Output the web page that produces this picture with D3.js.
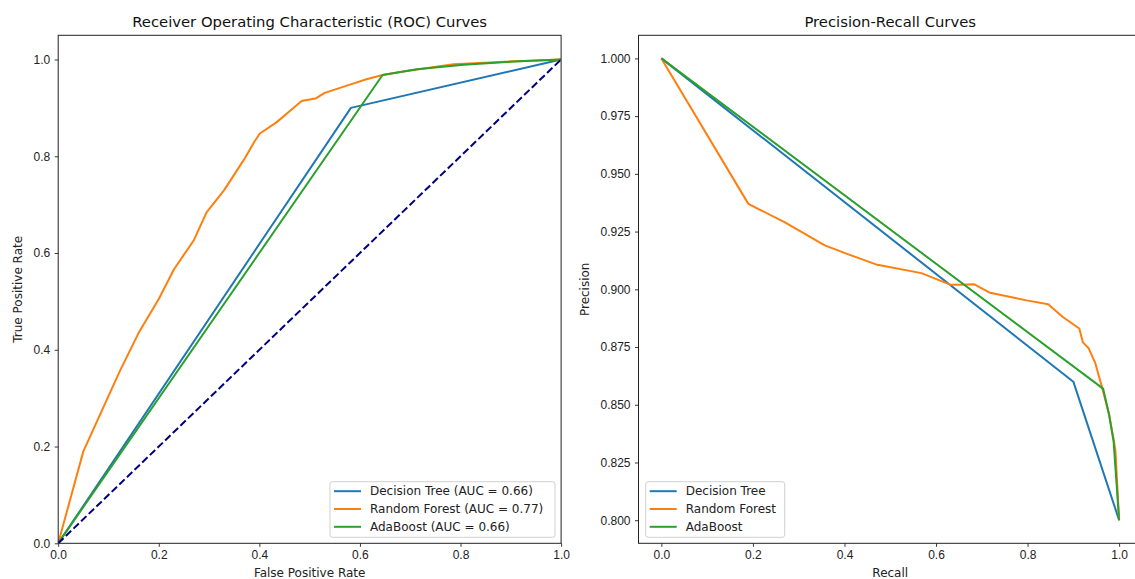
<!DOCTYPE html>
<html lang="en">

<head>
    <meta charset="UTF-8">
    <title>ROC and Precision-Recall curves</title>
    <script src="https://d3js.org/d3.v7.min.js"></script>
    <style>
        body {
            margin: 0;
            background: #ffffff;
        }

        svg {
            display: block;
            font-family: "DejaVu Sans", sans-serif;
        }

        .tick text {
            font-size: 12px;
            fill: #222;
        }

        .tick line {
            stroke: #222;
            stroke-width: 0.9;
        }

        .domain {
            display: none;
        }
    </style>
</head>

<body>
    <svg id="chart" width="1135" height="579"></svg>

    <script>
        // ROC data [false positive rate, true positive rate]
        var rocDecisionTree = [[0, 0], [0.582, 0.900], [1, 1]];
        var rocRandomForest = [
            [0, 0], [0.05, 0.19], [0.085, 0.27], [0.123, 0.357], [0.16, 0.435], [0.2, 0.505],
            [0.23, 0.566], [0.27, 0.627], [0.295, 0.684], [0.33, 0.73], [0.37, 0.794],
            [0.39, 0.83], [0.401, 0.847], [0.434, 0.87], [0.46, 0.893], [0.484, 0.914],
            [0.513, 0.92], [0.53, 0.931], [0.58, 0.948], [0.613, 0.959], [0.645, 0.968],
            [0.68, 0.974], [0.786, 0.99], [0.9, 0.996], [1, 1]
        ];
        var rocAdaBoost = [[0, 0], [0.645, 0.968], [0.713, 0.98], [0.806, 0.989], [0.892, 0.995], [1, 1]];
        var rocChance = [[0, 0], [1, 1]];

        // Precision-recall data [recall, precision]
        var prDecisionTree = [[0, 1], [0.9, 0.86], [1, 0.8]];
        var prRandomForest = [
            [0, 1], [0.19, 0.937], [0.27, 0.929], [0.357, 0.919], [0.41, 0.915], [0.472, 0.9106],
            [0.568, 0.907], [0.631, 0.902], [0.655, 0.902], [0.683, 0.9022], [0.718, 0.8985],
            [0.798, 0.8952], [0.845, 0.8935], [0.877, 0.888], [0.913, 0.883], [0.921, 0.877],
            [0.933, 0.8746], [0.948, 0.868], [0.962, 0.858], [0.978, 0.846], [0.988, 0.835],
            [0.992, 0.83], [1, 0.8]
        ];
        var prAdaBoost = [[0, 1], [0.965, 0.857], [0.978, 0.8457], [0.988, 0.834], [1, 0.8]];

        var modelNames = ["Decision Tree", "Random Forest", "AdaBoost"];
        var aucValues = [0.66, 0.77, 0.66];
        var colors = ["#1f77b4", "#ff7f0e", "#2ca02c"];

        var rocTicks = [0, 0.2, 0.4, 0.6, 0.8, 1.0];
        var prXTicks = [0, 0.2, 0.4, 0.6, 0.8, 1.0];
        var prYTicks = [0.8, 0.825, 0.85, 0.875, 0.9, 0.925, 0.95, 0.975, 1.0];

        var svg = d3.select("#chart");

        function drawPanel(opts) {
            var g = svg.append("g");

            var x = d3.scaleLinear().domain(opts.xDomain).range([opts.left, opts.right]);
            var y = d3.scaleLinear().domain(opts.yDomain).range([opts.bottom, opts.top]);

            var clipId = "clip" + opts.id;
            g.append("clipPath").attr("id", clipId)
                .append("rect")
                .attr("x", opts.left).attr("y", opts.top)
                .attr("width", opts.right - opts.left)
                .attr("height", opts.bottom - opts.top);

            var line = d3.line()
                .x(function (d) { return x(d[0]); })
                .y(function (d) { return y(d[1]); });

            var lines = g.append("g").attr("clip-path", "url(#" + clipId + ")");
            opts.series.forEach(function (s, i) {
                lines.append("path")
                    .datum(s)
                    .attr("d", line)
                    .attr("fill", "none")
                    .attr("stroke", colors[i])
                    .attr("stroke-width", 2)
                    .attr("stroke-linejoin", "round");
            });

            if (opts.chance) {
                lines.append("path")
                    .datum(opts.chance)
                    .attr("d", line)
                    .attr("fill", "none")
                    .attr("stroke", "#000080")
                    .attr("stroke-width", 2)
                    .attr("stroke-dasharray", "7.4,3.2");
            }

            // axes
            g.append("g")
                .attr("transform", "translate(0," + opts.bottom + ")")
                .call(d3.axisBottom(x).tickValues(opts.xTicks).tickFormat(d3.format(".1f"))
                    .tickSizeInner(3.5).tickSizeOuter(0).tickPadding(3.5));

            g.append("g")
                .attr("transform", "translate(" + opts.left + ",0)")
                .call(d3.axisLeft(y).tickValues(opts.yTicks).tickFormat(d3.format(opts.yFormat))
                    .tickSizeInner(3.5).tickSizeOuter(0).tickPadding(4.5));

            // frame
            g.append("rect")
                .attr("x", opts.left).attr("y", opts.top)
                .attr("width", opts.right - opts.left)
                .attr("height", opts.bottom - opts.top)
                .attr("fill", "none")
                .attr("stroke", "#222")
                .attr("stroke-width", 1);

            // title and labels
            g.append("text")
                .attr("x", (opts.left + opts.right) / 2)
                .attr("y", 27)
                .attr("text-anchor", "middle")
                .attr("font-size", "14.8px")
                .attr("fill", "#111")
                .text(opts.title);

            g.append("text")
                .attr("x", (opts.left + opts.right) / 2)
                .attr("y", 576.5)
                .attr("text-anchor", "middle")
                .attr("font-size", "12px")
                .attr("fill", "#222")
                .text(opts.xLabel);

            g.append("text")
                .attr("transform", "translate(" + opts.yLabelX + "," + (opts.top + opts.bottom) / 2 + ") rotate(-90)")
                .attr("text-anchor", "middle")
                .attr("font-size", "12px")
                .attr("fill", "#222")
                .text(opts.yLabel);

            // legend
            var lg = g.append("g").attr("transform", "translate(" + opts.legendX + ",481.7)");
            lg.append("rect")
                .attr("width", opts.legendW)
                .attr("height", 55.6)
                .attr("rx", 2.5)
                .attr("fill", "#ffffff")
                .attr("fill-opacity", 0.85)
                .attr("stroke", "#d0d0d0")
                .attr("stroke-width", 1);

            opts.labels.forEach(function (label, i) {
                var cy = 9.5 + i * 17.8;
                lg.append("line")
                    .attr("x1", 4).attr("x2", 31)
                    .attr("y1", cy).attr("y2", cy)
                    .attr("stroke", colors[i])
                    .attr("stroke-width", 2);
                lg.append("text")
                    .attr("x", 40)
                    .attr("y", cy + 4.3)
                    .attr("font-size", "12px")
                    .attr("fill", "#222")
                    .text(label);
            });
        }

        drawPanel({
            id: "roc",
            left: 58.2, right: 561.1, top: 35.3, bottom: 543.3,
            xDomain: [0, 1], yDomain: [0, 1.05],
            xTicks: rocTicks, yTicks: rocTicks, yFormat: ".1f",
            series: [rocDecisionTree, rocRandomForest, rocAdaBoost],
            chance: rocChance,
            title: "Receiver Operating Characteristic (ROC) Curves",
            xLabel: "False Positive Rate",
            yLabel: "True Positive Rate",
            yLabelX: 21.5,
            legendX: 330, legendW: 225,
            labels: modelNames.map(function (n, i) { return n + " (AUC = " + aucValues[i].toFixed(2) + ")"; })
        });

        drawPanel({
            id: "pr",
            left: 638.5, right: 1142, top: 35.3, bottom: 543.3,
            xDomain: [-0.05, 1.05], yDomain: [0.79, 1.01],
            xTicks: prXTicks, yTicks: prYTicks, yFormat: ".3f",
            series: [prDecisionTree, prRandomForest, prAdaBoost],
            chance: null,
            title: "Precision-Recall Curves",
            xLabel: "Recall",
            yLabel: "Precision",
            yLabelX: 588.5,
            legendX: 645.7, legendW: 139,
            labels: modelNames
        });
    </script>
</body>

</html>
